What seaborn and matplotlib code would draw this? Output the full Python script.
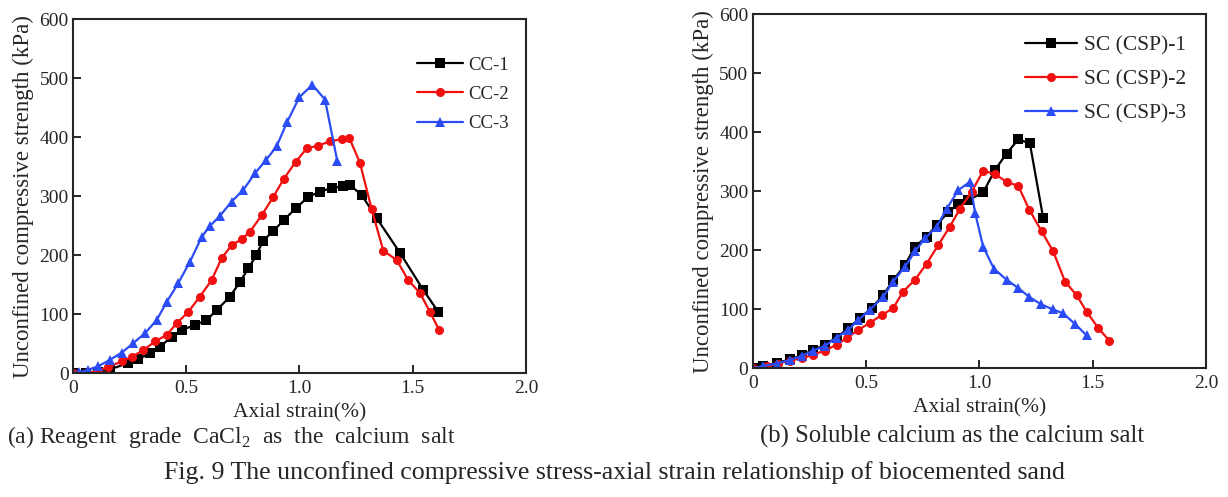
import matplotlib
matplotlib.use("Agg")
import matplotlib.pyplot as plt
import pandas as pd
import seaborn as sns

# %% Data (axial strain %, UCS kPa)
cc1_x = [0, 0.06, 0.11, 0.165, 0.245, 0.29, 0.34, 0.385, 0.437, 0.48, 0.54, 0.59, 0.635,
         0.694, 0.738, 0.775, 0.81, 0.84, 0.885, 0.932, 0.985, 1.039, 1.091, 1.142, 1.194,
         1.223, 1.275, 1.341, 1.444, 1.547, 1.613]
cc1_y = [0, 0, 2, 7, 17, 24, 34, 45, 62, 73, 82, 90, 107,
         130, 155, 178, 200, 225, 241, 260, 280, 299, 308, 314, 317,
         319, 302, 263, 204, 141, 104]

cc2_x = [0, 0.06, 0.11, 0.157, 0.216, 0.26, 0.311, 0.363, 0.415, 0.459, 0.51, 0.561, 0.613,
         0.657, 0.701, 0.745, 0.782, 0.834, 0.885, 0.932, 0.983, 1.032, 1.083, 1.135, 1.187,
         1.22, 1.267, 1.319, 1.37, 1.429, 1.48, 1.532, 1.576, 1.617]
cc2_y = [0, 1, 4, 11, 20, 28, 39, 54, 65, 85, 104, 130, 158,
         195, 217, 227, 240, 268, 299, 330, 358, 381, 386, 393, 397,
         399, 357, 278, 208, 192, 158, 136, 104, 73]

cc3_x = [0, 0.03, 0.069, 0.113, 0.165, 0.216, 0.267, 0.319, 0.37, 0.415, 0.466, 0.517, 0.569,
         0.606, 0.65, 0.701, 0.753, 0.804, 0.852, 0.9, 0.946, 1.0, 1.057, 1.113, 1.167]
cc3_y = [0, 2, 6, 12, 23, 35, 51, 68, 90, 121, 153, 189, 231,
         250, 267, 291, 311, 339, 361, 385, 426, 468, 489, 464, 360]

sc1_x = [0, 0.047, 0.106, 0.165, 0.216, 0.267, 0.319, 0.37, 0.422, 0.473, 0.525, 0.576, 0.62,
         0.672, 0.716, 0.767, 0.812, 0.863, 0.907, 0.951, 1.017, 1.069, 1.12, 1.172, 1.223, 1.282]
sc1_y = [0, 4, 9, 15, 22, 31, 40, 52, 68, 85, 102, 124, 149,
         175, 206, 223, 243, 265, 278, 285, 298, 336, 364, 388, 381, 254]

sc2_x = [0, 0.062, 0.113, 0.165, 0.216, 0.267, 0.319, 0.37, 0.415, 0.466, 0.517, 0.569, 0.62,
         0.664, 0.716, 0.767, 0.819, 0.87, 0.914, 0.966, 1.017, 1.069, 1.12, 1.172, 1.22,
         1.275, 1.326, 1.378, 1.429, 1.473, 1.525, 1.573]
sc2_y = [0, 4, 8, 13, 17, 23, 30, 40, 51, 65, 77, 90, 102,
         130, 150, 177, 209, 240, 270, 299, 335, 329, 316, 309, 269,
         232, 198, 147, 124, 96, 68, 47]

sc3_x = [0, 0.047, 0.106, 0.165, 0.216, 0.267, 0.319, 0.37, 0.422, 0.466, 0.517, 0.576, 0.62,
         0.672, 0.716, 0.76, 0.812, 0.856, 0.907, 0.959, 0.981, 1.017, 1.064, 1.12, 1.172,
         1.22, 1.27, 1.323, 1.37, 1.422, 1.473]
sc3_y = [0, 4, 8, 14, 21, 30, 38, 52, 65, 82, 99, 121, 147,
         172, 198, 220, 240, 270, 302, 316, 264, 206, 169, 150, 136,
         121, 109, 100, 93, 75, 56]

x_ticks = [0, 0.5, 1.0, 1.5, 2.0]
x_tick_labels = ["0", "0.5", "1.0", "1.5", "2.0"]
y_ticks = [0, 100, 200, 300, 400, 500, 600]

colors = ["black", "#f01010", "#2b4cf5"]
markers = ["s", "o", "^"]

# %% Style
sns.set_style("ticks")
plt.rcParams['font.family'] = ['Liberation Serif', 'DejaVu Serif']
plt.rcParams['mathtext.fontset'] = 'custom'
plt.rcParams['mathtext.rm'] = 'Liberation Serif'

fig = plt.figure(figsize=(12.28, 4.97), dpi=100)
ax_a = fig.add_axes([0.0592, 0.2489, 0.3692, 0.7123])
ax_b = fig.add_axes([0.6129, 0.2590, 0.3692, 0.7123])


def draw(ax, series, leg_anchor, leg_size):
    for (x, y, name), c, m in zip(series, colors, markers):
        df = pd.DataFrame({'strain': x, 'ucs': y})
        sns.lineplot(data=df, x='strain', y='ucs', color=c, marker=m, markersize=6.5,
                     markeredgewidth=0, linewidth=1.6, estimator=None, sort=False,
                     label=name, ax=ax)
    ax.set_xlim(0, 2.0)
    ax.set_ylim(0, 600)
    ax.set_xticks(x_ticks)
    ax.set_xticklabels(x_tick_labels)
    ax.set_yticks(y_ticks)
    ax.tick_params(direction='in', length=6, width=1.4, labelsize=14, pad=3)
    ax.tick_params(axis='x', pad=5)
    for s in ax.spines.values():
        s.set_linewidth(1.5)
    ax.set_xlabel("Axial strain(%)", fontsize=15.5, labelpad=4)
    ax.set_ylabel("Unconfined compressive strength (kPa)", fontsize=16.5, labelpad=4)
    ax.legend(loc='upper left', bbox_to_anchor=leg_anchor, frameon=False,
              fontsize=leg_size, borderpad=0, handlelength=2.45, handletextpad=0.3,
              labelspacing=0.65, borderaxespad=0)


draw(ax_a, [(cc1_x, cc1_y, "CC-1"), (cc2_x, cc2_y, "CC-2"), (cc3_x, cc3_y, "CC-3")],
     (0.759, 0.895), 13.5)
draw(ax_b, [(sc1_x, sc1_y, "SC (CSP)-1"), (sc2_x, sc2_y, "SC (CSP)-2"),
            (sc3_x, sc3_y, "SC (CSP)-3")],
     (0.60, 0.94), 15.5)

# %% Captions
fig.text(0.188, 0.121, "(a) Reagent  grade  CaCl$_2$  as  the  calcium  salt",
         ha='center', va='center', fontsize=17)
fig.text(0.775, 0.121, "(b) Soluble calcium as the calcium salt",
         ha='center', va='center', fontsize=17.8)
fig.text(0.5, 0.05, "Fig. 9 The unconfined compressive stress-axial strain relationship of biocemented sand",
         ha='center', va='center', fontsize=18.6)

fig.savefig("out.png", dpi=100)
